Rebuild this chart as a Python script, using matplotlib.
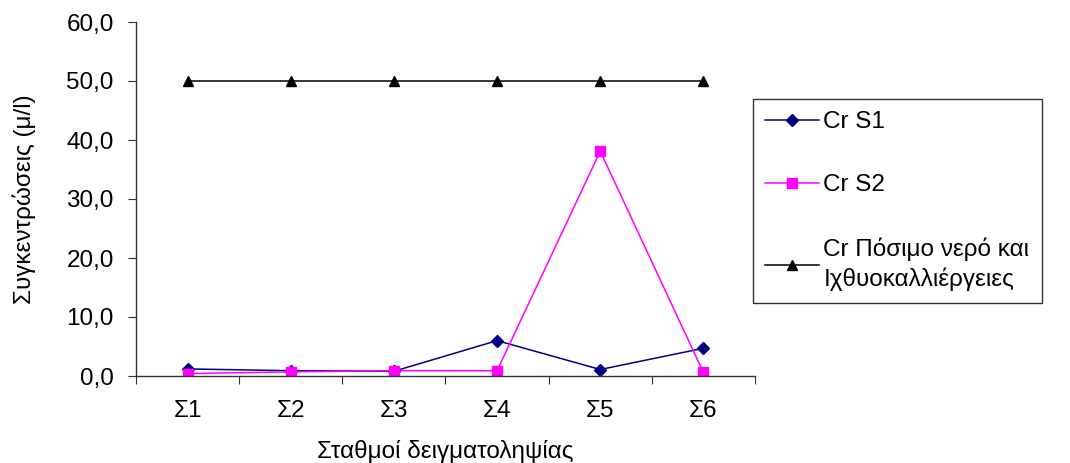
import matplotlib.pyplot as plt
import numpy as np
from matplotlib.ticker import FuncFormatter

plt.rcParams['font.family'] = ['Liberation Sans', 'DejaVu Sans']

# stations
stations = ['Σ1', 'Σ2', 'Σ3', 'Σ4', 'Σ5', 'Σ6']
# Cr concentrations (μg/l)
cr_s1 = [1.2, 0.9, 0.8, 6.0, 1.1, 4.7]
cr_s2 = [0.4, 0.7, 0.9, 0.9, 38.1, 0.6]
cr_limit = [50, 50, 50, 50, 50, 50]

FS = 17.5

fig = plt.figure(figsize=(10.7, 4.63), dpi=100)
ax = fig.add_axes([136/1070, 1-376/463, (755-136)/1070, (376-22)/463])

x = np.arange(len(stations))
ax.plot(x, cr_s1, color='#000080', marker='D', markersize=6, lw=1.1, label='Cr S1')
ax.plot(x, cr_s2, color='#FF00FF', marker='s', markersize=7, lw=1.1, label='Cr S2')
ax.plot(x, cr_limit, color='black', marker='^', markersize=7, lw=1.1,
        label='Cr Πόσιμο νερό και\nΙχθυοκαλλιέργειες')

ax.set_xlim(-0.5, len(stations)-0.5)
ax.set_ylim(0, 60)
ax.set_yticks(np.arange(0, 61, 10))
ax.yaxis.set_major_formatter(FuncFormatter(lambda v, p: f"{v:.1f}".replace('.', ',')))

# category axis: ticks between categories, labels centred
ax.set_xticks(np.arange(-0.5, len(stations), 1.0))
ax.set_xticklabels([])
ax.set_xticks(x, minor=True)
ax.set_xticklabels(stations, minor=True)
ax.tick_params(axis='x', which='minor', length=0, pad=17, labelsize=FS)
ax.tick_params(axis='x', which='major', length=6, direction='out', color='#333333')
ax.tick_params(axis='y', length=6, direction='out', labelsize=FS, pad=10, color='#333333')

for s in ['top', 'right']:
    ax.spines[s].set_visible(False)
for s in ['left', 'bottom']:
    ax.spines[s].set_color('#333333')
    ax.spines[s].set_linewidth(1.0)

ax.set_xlabel('Σταθμοί δειγματοληψίας', fontsize=FS, labelpad=13)
ax.set_ylabel('Συγκεντρώσεις (μ/l)', fontsize=FS, labelpad=22)

leg = fig.legend(loc='upper left', bbox_to_anchor=(753/1070, 1-99/463),
                 fontsize=FS, handlelength=2.2, handletextpad=0.2,
                 labelspacing=1.7, borderpad=0.5, borderaxespad=0,
                 frameon=True, fancybox=False)
leg.get_texts()[2].set_linespacing(1.35)
leg.get_frame().set_edgecolor('black')
leg.get_frame().set_linewidth(1.0)

fig.savefig('out.png', dpi=100)
